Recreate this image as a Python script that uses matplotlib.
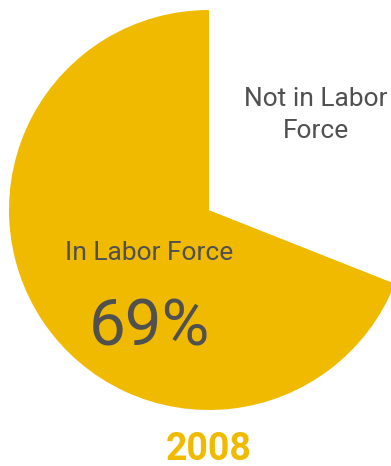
import matplotlib
matplotlib.use("Agg")
import matplotlib.pyplot as plt

# labor force participation, 2008
labels = ["In Labor Force", "Not in Labor Force"]
shares = [69, 31]
year = "2008"

gold = "#F0BA00"
grey = "#505050"

plt.rcParams["font.family"] = ["Roboto", "DejaVu Sans"]

fig = plt.figure(figsize=(3.91, 4.66), dpi=100)
ax = fig.add_axes([0, 0, 1, 1])

# wedges start at 12 o'clock and run counterclockwise; the remainder is left blank
wedges, _ = ax.pie(shares, colors=[gold, "white"], startangle=90, counterclock=True,
                   center=(209, 256), radius=200, frame=True)
ax.set_xlim(0, 391)
ax.set_ylim(0, 466)
ax.set_aspect("auto")
ax.axis("off")

ax.text(316, 351, "Not in Labor\nForce", ha="center", va="center", color=grey,
        fontsize=19, linespacing=1.45)
ax.text(149, 213, labels[0], ha="center", va="center", color=grey, fontsize=19)
ax.text(149, 138, f"{shares[0]}%", ha="center", va="center", color=grey, fontsize=47)
ax.text(209, 17, year, ha="center", va="center", color=gold, fontsize=27,
        fontweight="bold")

fig.savefig("out.png", dpi=100)
